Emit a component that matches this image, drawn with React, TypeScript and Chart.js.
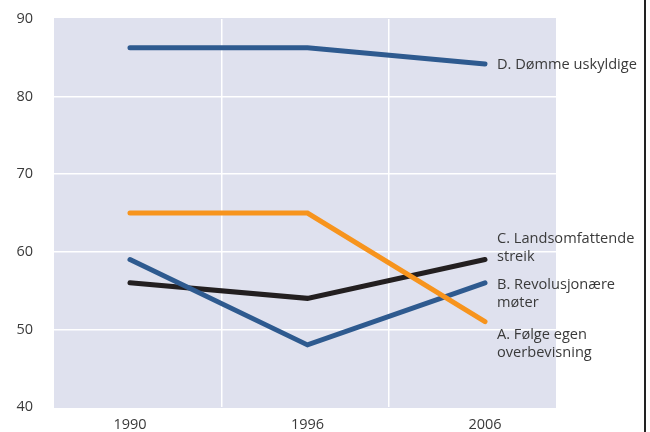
import React, { useEffect, useRef } from "react";
import { Chart, registerables } from "chart.js";

Chart.register(...registerables);

const categories = ["1990", "1996", "2006"];
const seriesD = [86.3, 86.3, 84.2];
const seriesC = [56, 54, 59];
const seriesB = [59, 48, 56];
const seriesA = [65, 65, 51];
const labelD = ["D. Dømme uskyldige"];
const labelC = ["C. Landsomfattende", "streik"];
const labelB = ["B. Revolusjonære", "møter"];
const labelA = ["A. Følge egen", "overbevisning"];
const yTicks = [40, 50, 60, 70, 80, 90];

const FONT = "'Open Sans', 'Noto Sans', sans-serif";

export default function App() {
  const ref = useRef<HTMLCanvasElement | null>(null);
  useEffect(() => {
    if (!ref.current) return;
    const toPts = (arr: number[]) => arr.map((v, i) => ({ x: i, y: v }));
    const bgPlugin = {
      id: "bg",
      beforeDraw(chart: any) {
        const { ctx, chartArea } = chart;
        ctx.save();
        ctx.fillStyle = "#dfe1ee";
        ctx.fillRect(chartArea.left, chartArea.top - 1, chartArea.right - chartArea.left, chartArea.bottom - chartArea.top + 2);
        ctx.restore();
      },
      afterDraw(chart: any) {
        const { ctx } = chart;
        ctx.save();
        chart.data.datasets.forEach((ds: any, di: number) => {
          const meta = chart.getDatasetMeta(di);
          const last = meta.data[meta.data.length - 1];
          ctx.font = `14.6px ${FONT}`;
          ctx.fillStyle = "#3a3a3a";
          ctx.textBaseline = "middle";
          ctx.textAlign = "left";
          (ds.endLabel as string[]).forEach((line, li) => {
            ctx.fillText(line, last.x + 12, last.y + ds.labelDy + li * 18.5);
          });
        });
        ctx.strokeStyle = "#222";
        ctx.lineWidth = 2;
        ctx.beginPath();
        ctx.moveTo(645, 0);
        ctx.lineTo(645, chart.height);
        ctx.stroke();
        ctx.restore();
      },
    };
    const mk = (data: number[], color: string, endLabel: string[], labelDy: number) => ({
      data: toPts(data),
      borderColor: color,
      backgroundColor: color,
      borderWidth: 5,
      pointRadius: 0,
      borderCapStyle: "round",
      borderJoinStyle: "miter",
      tension: 0,
      endLabel,
      labelDy,
    });
    const chart = new Chart(ref.current, {
      type: "line",
      data: {
        datasets: [
          mk(seriesA, "#f7941d", labelA, 13) as any,
          mk(seriesB, "#2e5a8f", labelB, 2) as any,
          mk(seriesC, "#231f20", labelC, -21) as any,
          mk(seriesD, "#2e5a8f", labelD, 1) as any,
        ],
      },
      options: {
        animation: false,
        responsive: false,
        maintainAspectRatio: false,
        layout: { padding: { left: 0, right: 94, top: 19, bottom: 0 } },
        plugins: { legend: { display: false }, tooltip: { enabled: false } },
        scales: {
          x: {
            type: "linear",
            min: -0.428,
            max: 2.4,
            afterBuildTicks(scale: any) {
              scale.ticks = [0, 0.518, 1, 1.459, 2].map((v) => ({ value: v }));
            },
            afterFit(scale: any) {
              scale.height = 25;
              scale.paddingLeft = 0;
              scale.paddingRight = 0;
            },
            grid: {
              drawTicks: false,
              color: (c: any) => (c.tick && Number.isInteger(c.tick.value) ? "rgba(0,0,0,0)" : "#ffffff"),
              lineWidth: 1.5,
            },
            border: { display: false },
            ticks: {
              padding: 9,
              autoSkip: false,
              maxRotation: 0,
              color: "#3a3a3a",
              font: { family: FONT, size: 14.5 },
              callback: (v: any) => (Number.isInteger(v) ? categories[v] : ""),
            },
          },
          y: {
            min: 40,
            max: 90,
            afterBuildTicks(scale: any) {
              scale.ticks = yTicks.map((v) => ({ value: v }));
            },
            afterFit(scale: any) {
              scale.width = 54;
              scale.paddingTop = 0;
              scale.paddingBottom = 0;
            },
            grid: {
              drawTicks: false,
              color: (c: any) => (c.tick && (c.tick.value === 40 || c.tick.value === 90) ? "rgba(0,0,0,0)" : "#ffffff"),
              lineWidth: 1.5,
            },
            border: { display: false },
            ticks: {
              padding: 21,
              color: "#3a3a3a",
              font: { family: FONT, size: 14.5 },
            },
          },
        },
      },
      plugins: [bgPlugin],
    } as any);
    return () => chart.destroy();
  }, []);
  return (
    <div style={{ position: "fixed", left: 0, top: 0, width: 650, height: 432, background: "#fff" }}>
      <canvas ref={ref} width={650} height={432} style={{ width: 650, height: 432, display: "block" }} />
    </div>
  );
}
